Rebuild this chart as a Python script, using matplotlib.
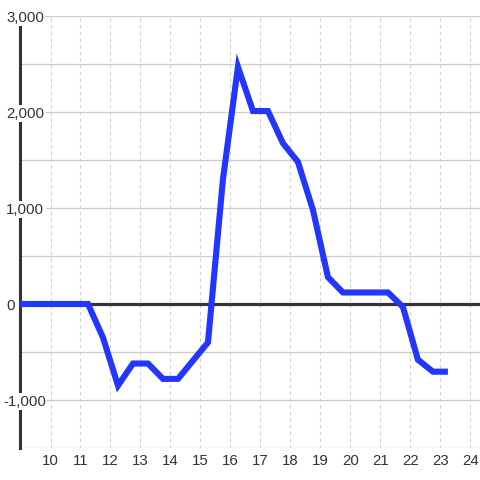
import matplotlib
matplotlib.use("Agg")
import matplotlib.pyplot as plt

# data
hours = [8.75, 9.25, 9.75, 10.25, 10.75, 11.25, 11.75, 12.25, 12.75, 13.25, 13.75,
         14.25, 14.75, 15.25, 15.75, 16.25, 16.75, 17.25, 17.75, 18.25, 18.75,
         19.25, 19.75, 20.25, 20.75, 21.25, 21.75, 22.25, 22.75, 23.25]
values = [0, 0, 0, 0, 0, 0, -350, -850, -620, -620, -780,
          -780, -590, -400, 1300, 2470, 2010, 2010, 1675, 1480, 980,
          280, 120, 120, 120, 120, -30, -580, -705, -705]
x_ticks = list(range(10, 25))
y_label_vals = [3000, 2000, 1000, 0, -1000]
y_grid_vals = [-1500, -1000, -500, 0, 500, 1000, 1500, 2000, 2500, 3000]

plt.rcParams['font.family'] = ['Liberation Sans', 'DejaVu Sans']

fig = plt.figure(figsize=(4.8, 4.8), dpi=100)
fig.patch.set_facecolor('white')
ax = fig.add_axes([20/480, 32/480, 460/480, 432/480])
ax.set_facecolor('white')

ax.set_xlim(8.983, 24.32)
ax.set_ylim(-1500, 3000)

for v in y_grid_vals:
    ax.axhline(v, color='#cccccc', lw=0.9, zorder=1)
for t in x_ticks:
    ax.axvline(t, color='#cfcfcf', lw=0.8, ls=(0, (3, 3)), zorder=1)

ax.axhline(0, color='#333333', lw=2.3, zorder=2)

ax.plot(hours, values, color='#2236ff', lw=4.4, solid_joinstyle='miter',
        solid_capstyle='butt', zorder=4)

for s in ['top', 'right', 'bottom']:
    ax.spines[s].set_visible(False)
ax.spines['left'].set_color('#333333')
ax.spines['left'].set_linewidth(2.2)
ax.spines['left'].set_bounds(-1500, 2915)
ax.spines['left'].set_zorder(3)

ax.set_yticks([])
ax.set_xticks(x_ticks)
ax.set_xticklabels([str(t) for t in x_ticks], fontsize=10.8, color='#333333')
ax.tick_params(axis='x', length=0, pad=4)

tr = ax.get_yaxis_transform()
for v in y_label_vals:
    lab = f"{v:,}"
    xpos = (6 - 20) / 460 if v >= 0 else (3 - 20) / 460
    ax.text(xpos, v, lab, transform=tr, ha='left', va='center_baseline',
            fontsize=10.8, color='#333333', zorder=6, clip_on=False,
            bbox=dict(boxstyle='square,pad=0.1', fc='white', ec='none'))

fig.savefig('out.png', dpi=100, facecolor='white')
